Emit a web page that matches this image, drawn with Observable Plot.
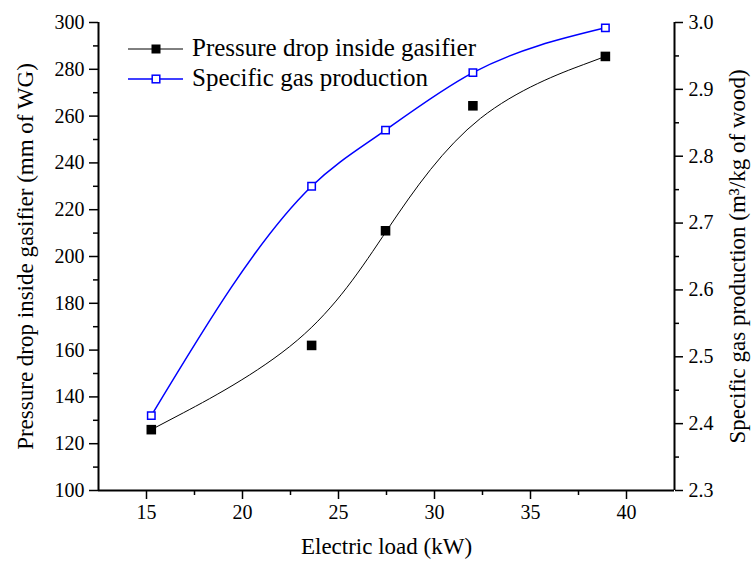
<!DOCTYPE html>
<html>
<head>
<meta charset="utf-8">
<script src="https://cdn.jsdelivr.net/npm/d3@7"></script>
<script src="https://cdn.jsdelivr.net/npm/@observablehq/plot@0.6"></script>
<style>
  html, body { margin: 0; padding: 0; background: #fff; }
  #chart svg { display: block; }
</style>
</head>
<body>
<div id="chart"></div>
<script>
// Data
const electricLoad   = [15.25, 23.6, 27.45, 32.0, 38.9];        // kW
const pressureDrop   = [126, 162, 211, 264.4, 285.5];           // mm of WG
const gasProduction  = [2.412, 2.755, 2.839, 2.925, 2.992];     // m3/kg of wood

const xTicks       = [15, 20, 25, 30, 35, 40];
const xMinorTicks  = [17.5, 22.5, 27.5, 32.5, 37.5];
const yLeftTicks   = [100, 120, 140, 160, 180, 200, 220, 240, 260, 280, 300];
const yLeftMinor   = [110, 130, 150, 170, 190, 210, 230, 250, 270, 290];
const yRightTicks  = [2.3, 2.4, 2.5, 2.6, 2.7, 2.8, 2.9, 3.0];
const yRightMinor  = [2.35, 2.45, 2.55, 2.65, 2.75, 2.85, 2.95];

const seriesNames = ["Pressure drop inside gasifier", "Specific gas production"];
const xTitle  = "Electric load (kW)";
const yTitle  = "Pressure drop inside gasifier (mm of WG)";
const y2Title = "Specific gas production (m\u00B3/kg of wood)";

const xDomain  = [12.5, 42.5];
const yDomain  = [100, 300];
const y2Domain = [2.3, 3.0];

// map secondary axis values onto the primary y scale
const toLeft = v => yDomain[0] + (v - y2Domain[0]) / (y2Domain[1] - y2Domain[0]) * (yDomain[1] - yDomain[0]);
const toRight = v => y2Domain[0] + (v - yDomain[0]) / (yDomain[1] - yDomain[0]) * (y2Domain[1] - y2Domain[0]);

const rows = electricLoad.map((x, i) => ({x, p: pressureDrop[i], g: gasProduction[i]}));

const FONT = "'Liberation Serif', 'Times New Roman', serif";
const BLUE = "#0000ff";

const chart = Plot.plot({
  width: 754,
  height: 567,
  marginLeft: 98,
  marginRight: 80,
  marginTop: 22,
  marginBottom: 77,
  style: {fontFamily: FONT, fontSize: "20px", color: "#000", background: "#fff", overflow: "visible"},
  x: {domain: xDomain},
  y: {domain: yDomain},
  marks: [
    // axes
    Plot.axisX({ticks: xTicks, tickSize: 9, tickPadding: 5, label: null, strokeWidth: 1.5}),
    Plot.axisX({ticks: xMinorTicks, tickSize: 5, tickFormat: () => "", label: null, strokeWidth: 1.5}),
    Plot.axisY({anchor: "left", ticks: yLeftTicks, tickSize: 9, tickPadding: 5, label: null, strokeWidth: 1.5}),
    Plot.axisY({anchor: "left", ticks: yLeftMinor, tickSize: 5, tickFormat: () => "", label: null, strokeWidth: 1.5}),
    Plot.axisY({anchor: "right", ticks: yRightTicks.map(toLeft), tickFormat: d => toRight(d).toFixed(1),
                tickSize: 8, tickPadding: 6, label: null, strokeWidth: 1.5}),
    Plot.axisY({anchor: "right", ticks: yRightMinor.map(toLeft), tickFormat: () => "", tickSize: 4, label: null, strokeWidth: 1.5}),
    Plot.ruleX(xDomain, {stroke: "#000", strokeWidth: 2}),
    Plot.ruleY([yDomain[0]], {stroke: "#000", strokeWidth: 2}),
    // axis titles
    Plot.text([xTitle], {frameAnchor: "bottom", dy: 63, fontSize: 23, textAnchor: "middle"}),
    Plot.text([yTitle], {frameAnchor: "left", rotate: -90, dx: -73, fontSize: 23, textAnchor: "middle"}),
    Plot.text([y2Title], {frameAnchor: "right", rotate: -90, dx: 63, fontSize: 23, textAnchor: "middle"}),
    // series
    Plot.line(rows, {x: "x", y: "p", curve: "basis", stroke: "#000", strokeWidth: 1}),
    Plot.line(rows, {x: "x", y: d => toLeft(d.g), curve: "monotone-x", stroke: BLUE, strokeWidth: 1.5}),
    Plot.dot(rows, {x: "x", y: "p", symbol: "square", r: 5.4, fill: "#000", stroke: "none"}),
    Plot.dot(rows, {x: "x", y: d => toLeft(d.g), symbol: "square", r: 4.2, fill: "#fff", stroke: BLUE, strokeWidth: 1.5})
  ]
});

// Legend drawn inside the plot area (top-left)
const svg = d3.select(chart);
const legend = svg.append("g").attr("font-family", FONT).attr("font-size", 25).attr("text-anchor", "start");
const legendItems = [
  {name: seriesNames[0], color: "#000", filled: true, width: 1},
  {name: seriesNames[1], color: BLUE, filled: false, width: 1.5}
];
legendItems.forEach((it, i) => {
  const cy = 49 + i * 30;
  legend.append("line").attr("x1", 128).attr("x2", 183).attr("y1", cy).attr("y2", cy)
    .attr("stroke", it.color).attr("stroke-width", it.width);
  if (it.filled) {
    legend.append("rect").attr("x", 151.5).attr("y", cy - 4.5).attr("width", 9).attr("height", 9).attr("fill", it.color);
  } else {
    legend.append("rect").attr("x", 152.2).attr("y", cy - 3.8).attr("width", 7.6).attr("height", 7.6)
      .attr("fill", "#fff").attr("stroke", it.color).attr("stroke-width", 1.5);
  }
  legend.append("text").attr("x", 192).attr("y", cy + 7).attr("fill", "#000")
    .attr("text-anchor", "start").text(it.name);
});

document.getElementById("chart").appendChild(chart);
</script>
</body>
</html>
